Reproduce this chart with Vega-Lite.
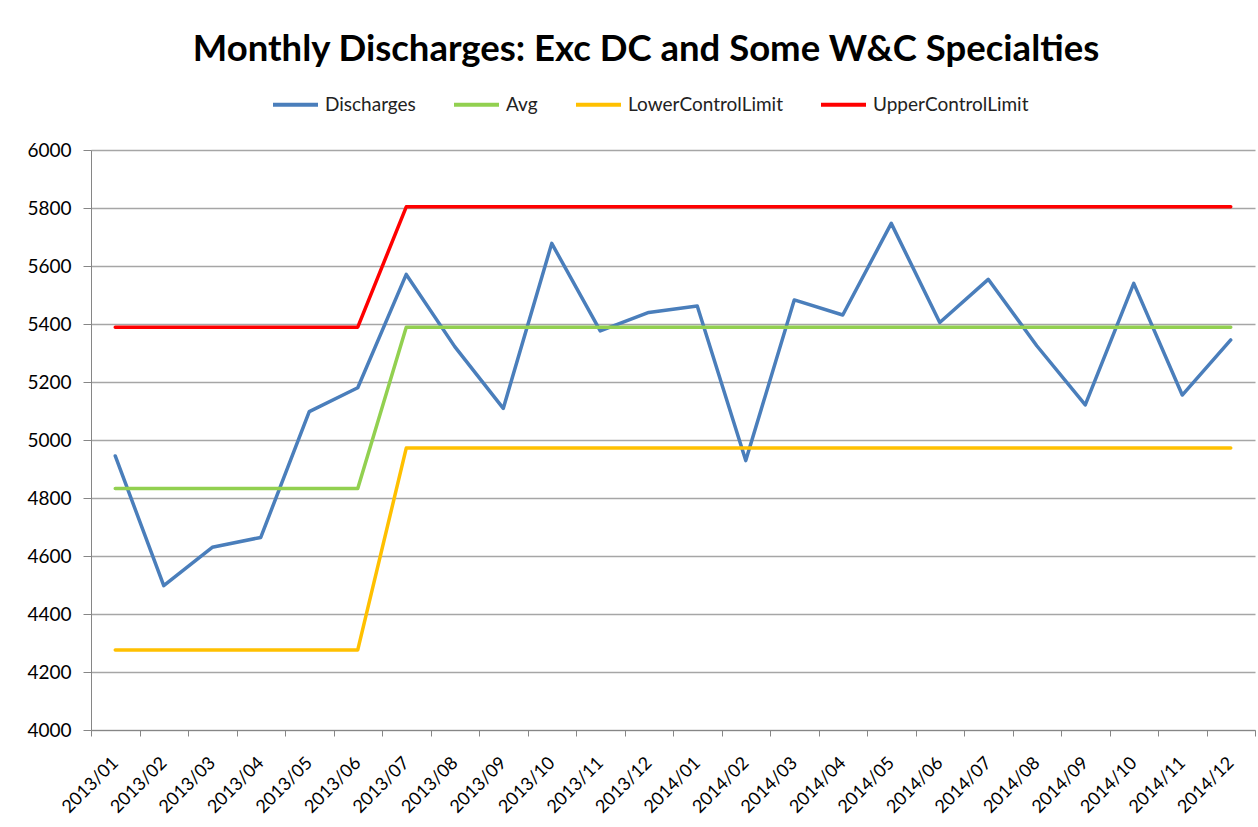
{
  "$schema": "https://vega.github.io/schema/vega-lite/v6.json",
  "width": 1164,
  "height": 580,
  "autosize": {"type": "none"},
  "padding": {"left": 91, "top": 150, "right": 3, "bottom": 97},
  "background": "white",
  "title": {
    "text": "Monthly Discharges: Exc DC and Some W&C Specialties",
    "font": "Lato",
    "fontSize": 36.5,
    "fontWeight": "bold",
    "color": "#000000",
    "anchor": "middle",
    "dx": -27,
    "offset": 12
  },
  "data": {
    "values": [
      {"Month": "2013/01", "Discharges": 4945, "Avg": 4833, "LowerControlLimit": 4276, "UpperControlLimit": 5389},
      {"Month": "2013/02", "Discharges": 4498, "Avg": 4833, "LowerControlLimit": 4276, "UpperControlLimit": 5389},
      {"Month": "2013/03", "Discharges": 4630, "Avg": 4833, "LowerControlLimit": 4276, "UpperControlLimit": 5389},
      {"Month": "2013/04", "Discharges": 4664, "Avg": 4833, "LowerControlLimit": 4276, "UpperControlLimit": 5389},
      {"Month": "2013/05", "Discharges": 5098, "Avg": 4833, "LowerControlLimit": 4276, "UpperControlLimit": 5389},
      {"Month": "2013/06", "Discharges": 5180, "Avg": 4833, "LowerControlLimit": 4276, "UpperControlLimit": 5389},
      {"Month": "2013/07", "Discharges": 5571, "Avg": 5389, "LowerControlLimit": 4972, "UpperControlLimit": 5804},
      {"Month": "2013/08", "Discharges": 5322, "Avg": 5389, "LowerControlLimit": 4972, "UpperControlLimit": 5804},
      {"Month": "2013/09", "Discharges": 5109, "Avg": 5389, "LowerControlLimit": 4972, "UpperControlLimit": 5804},
      {"Month": "2013/10", "Discharges": 5678, "Avg": 5389, "LowerControlLimit": 4972, "UpperControlLimit": 5804},
      {"Month": "2013/11", "Discharges": 5376, "Avg": 5389, "LowerControlLimit": 4972, "UpperControlLimit": 5804},
      {"Month": "2013/12", "Discharges": 5440, "Avg": 5389, "LowerControlLimit": 4972, "UpperControlLimit": 5804},
      {"Month": "2014/01", "Discharges": 5462, "Avg": 5389, "LowerControlLimit": 4972, "UpperControlLimit": 5804},
      {"Month": "2014/02", "Discharges": 4929, "Avg": 5389, "LowerControlLimit": 4972, "UpperControlLimit": 5804},
      {"Month": "2014/03", "Discharges": 5483, "Avg": 5389, "LowerControlLimit": 4972, "UpperControlLimit": 5804},
      {"Month": "2014/04", "Discharges": 5431, "Avg": 5389, "LowerControlLimit": 4972, "UpperControlLimit": 5804},
      {"Month": "2014/05", "Discharges": 5747, "Avg": 5389, "LowerControlLimit": 4972, "UpperControlLimit": 5804},
      {"Month": "2014/06", "Discharges": 5405, "Avg": 5389, "LowerControlLimit": 4972, "UpperControlLimit": 5804},
      {"Month": "2014/07", "Discharges": 5554, "Avg": 5389, "LowerControlLimit": 4972, "UpperControlLimit": 5804},
      {"Month": "2014/08", "Discharges": 5325, "Avg": 5389, "LowerControlLimit": 4972, "UpperControlLimit": 5804},
      {"Month": "2014/09", "Discharges": 5121, "Avg": 5389, "LowerControlLimit": 4972, "UpperControlLimit": 5804},
      {"Month": "2014/10", "Discharges": 5540, "Avg": 5389, "LowerControlLimit": 4972, "UpperControlLimit": 5804},
      {"Month": "2014/11", "Discharges": 5155, "Avg": 5389, "LowerControlLimit": 4972, "UpperControlLimit": 5804},
      {"Month": "2014/12", "Discharges": 5345, "Avg": 5389, "LowerControlLimit": 4972, "UpperControlLimit": 5804}
    ]
  },
  "transform": [
    {"fold": ["Discharges", "Avg", "LowerControlLimit", "UpperControlLimit"], "as": ["Series", "Value"]}
  ],
  "mark": {"type": "line", "strokeWidth": 3.5, "strokeCap": "round", "strokeJoin": "round"},
  "encoding": {
    "x": {
      "field": "Month",
      "type": "ordinal",
      "scale": {"type": "band", "paddingInner": 0, "paddingOuter": 0},
      "axis": {
        "title": null,
        "labelAngle": -45,
        "labelAlign": "right",
        "labelBaseline": "middle",
        "labelFont": "Lato",
        "labelFontSize": 18,
        "labelColor": "#000000",
        "labelPadding": 24,
        "tickBand": "extent",
        "tickSize": 6,
        "tickColor": "#868686",
        "domainColor": "#868686",
        "grid": false
      }
    },
    "y": {
      "field": "Value",
      "type": "quantitative",
      "scale": {"domain": [4000, 6000], "nice": false, "zero": false},
      "axis": {
        "title": null,
        "format": "d",
        "values": [4000, 4200, 4400, 4600, 4800, 5000, 5200, 5400, 5600, 5800, 6000],
        "labelFont": "Lato",
        "labelFontSize": 19,
        "labelColor": "#000000",
        "labelPadding": 12,
        "tickSize": 8,
        "tickColor": "#868686",
        "domainColor": "#868686",
        "grid": true,
        "gridColor": "#a6a6a6",
        "gridWidth": 1.5
      }
    },
    "color": {
      "field": "Series",
      "type": "nominal",
      "scale": {
        "domain": ["Discharges", "Avg", "LowerControlLimit", "UpperControlLimit"],
        "range": ["#4A7EBB", "#92D050", "#FFC000", "#FF0000"]
      },
      "legend": {
        "title": null,
        "orient": "none",
        "legendX": 180,
        "legendY": -70,
        "direction": "horizontal",
        "symbolType": "stroke",
        "symbolSize": 2025,
        "symbolStrokeWidth": 4,
        "labelFont": "Lato",
        "labelFontSize": 19,
        "labelLimit": 400,
        "labelColor": "#222222",
        "labelOffset": 5,
        "columnPadding": 30
      }
    }
  },
  "config": {
    "view": {"stroke": null}
  }
}
